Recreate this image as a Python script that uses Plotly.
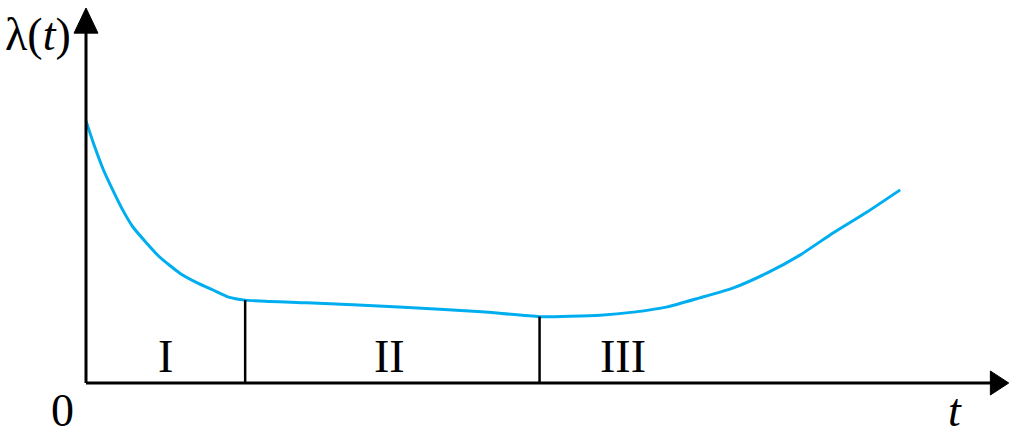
import plotly.graph_objects as go

# Bathtub curve, t in arbitrary units, lambda in arbitrary units
t_vals = [0.0, 0.08, 0.19, 0.29, 0.40, 0.51, 0.66, 0.80, 1.02, 1.21, 1.38, 1.55, 1.73,
          2.40, 3.40, 4.30, 4.93, 5.59, 5.95, 6.32, 6.67, 7.03, 7.40, 7.76, 8.12, 8.49, 8.85]
lam_vals = [6.99, 6.40, 5.68, 5.15, 4.61, 4.16, 3.73, 3.36, 2.93, 2.67, 2.48, 2.29, 2.21,
            2.14, 2.03, 1.90, 1.77, 1.81, 1.89, 2.03, 2.27, 2.53, 2.93, 3.41, 4.00, 4.56, 5.15]
boundaries_t = [1.73, 4.93]
boundaries_lam = [2.21, 1.77]
region_labels = ["I", "II", "III"]
region_label_t = [0.86, 3.30, 5.84]

AXIS_MAX_T = 10.0
AXIS_MAX_L = 10.0
SERIF = "Liberation Serif"

fig = go.Figure()
fig.add_trace(go.Scatter(x=t_vals, y=lam_vals, mode="lines",
                         line=dict(color="#00AEEF", width=3, shape="spline", smoothing=0.5),
                         hoverinfo="skip", showlegend=False))

# axes lines
fig.add_shape(type="line", x0=0, y0=0, x1=AXIS_MAX_T - 0.15, y1=0, line=dict(color="black", width=3))
fig.add_shape(type="line", x0=0, y0=0, x1=0, y1=AXIS_MAX_L - 0.6, line=dict(color="black", width=3))
# arrow heads
fig.add_shape(type="path",
              path=f"M {AXIS_MAX_T+0.03},0 L {AXIS_MAX_T-0.17},0.32 L {AXIS_MAX_T-0.17},-0.32 Z",
              fillcolor="black", line=dict(color="black", width=1))
fig.add_shape(type="path",
              path=f"M 0,{AXIS_MAX_L} L -0.13,{AXIS_MAX_L-0.67} L 0.13,{AXIS_MAX_L-0.67} Z",
              fillcolor="black", line=dict(color="black", width=1))

# region boundaries
for bt, bl in zip(boundaries_t, boundaries_lam):
    fig.add_shape(type="line", x0=bt, y0=0, x1=bt, y1=bl, line=dict(color="black", width=2.5))

# labels
for lab, lt in zip(region_labels, region_label_t):
    fig.add_annotation(x=lt, y=0.72, text=lab, showarrow=False,
                       font=dict(family=SERIF, size=46, color="black"),
                       xanchor="center", yanchor="middle")

fig.add_annotation(x=-0.52, y=9.3, text="λ(<i>t</i>)", showarrow=False,
                   font=dict(family=SERIF, size=46, color="black"),
                   xanchor="center", yanchor="middle")
fig.add_annotation(x=-0.26, y=-0.72, text="0", showarrow=False,
                   font=dict(family=SERIF, size=46, color="black"),
                   xanchor="center", yanchor="middle")
fig.add_annotation(x=9.45, y=-0.72, text="<i>t</i>", showarrow=False,
                   font=dict(family=SERIF, size=46, color="black"),
                   xanchor="center", yanchor="middle")

fig.update_layout(
    width=1012, height=435,
    margin=dict(l=0, r=0, t=0, b=0),
    plot_bgcolor="white", paper_bgcolor="white",
    xaxis=dict(range=[-86/92, (1012-86)/92], visible=False, fixedrange=True),
    yaxis=dict(range=[-52/37.5, 383/37.5], visible=False, fixedrange=True),
    showlegend=False,
)
fig.write_html("out.html")
